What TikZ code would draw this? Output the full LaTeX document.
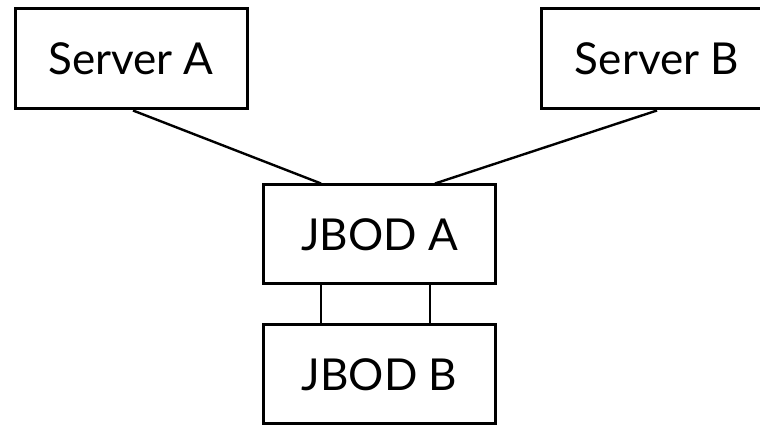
\documentclass[tikz,border=0pt]{standalone}
\usepackage{fontspec}
\setmainfont{Lato}
\begin{document}
\begin{tikzpicture}[x=1pt,y=1pt,
  box/.style={draw=black,line width=3pt,inner sep=0pt,minimum width=232pt,minimum height=100pt,font=\fontsize{44}{50}\selectfont},
  wire/.style={draw=black,line width=2.4pt}]
\useasboundingbox (0,0) rectangle (760,425);
\clip (0,0) rectangle (760,425);
\node[box] (sa) at (131,366) {Server A};
\node[box] (sb) at (657,366) {Server B};
\node[box,minimum height=99pt] (ja) at (379.5,190.5) {JBOD A};
\node[box,minimum height=99pt] (jb) at (379.5,50.5) {JBOD B};
\draw[wire] ([xshift=2pt]sa.south) -- ([xshift=59pt]ja.north west);
\draw[wire] (sb.south) -- ([xshift=-62pt]ja.north east);
\draw[wire] ([xshift=59pt]ja.south west) -- ([xshift=59pt]jb.north west);
\draw[wire] ([xshift=-67pt]ja.south east) -- ([xshift=-67pt]jb.north east);
\end{tikzpicture}
\end{document}
